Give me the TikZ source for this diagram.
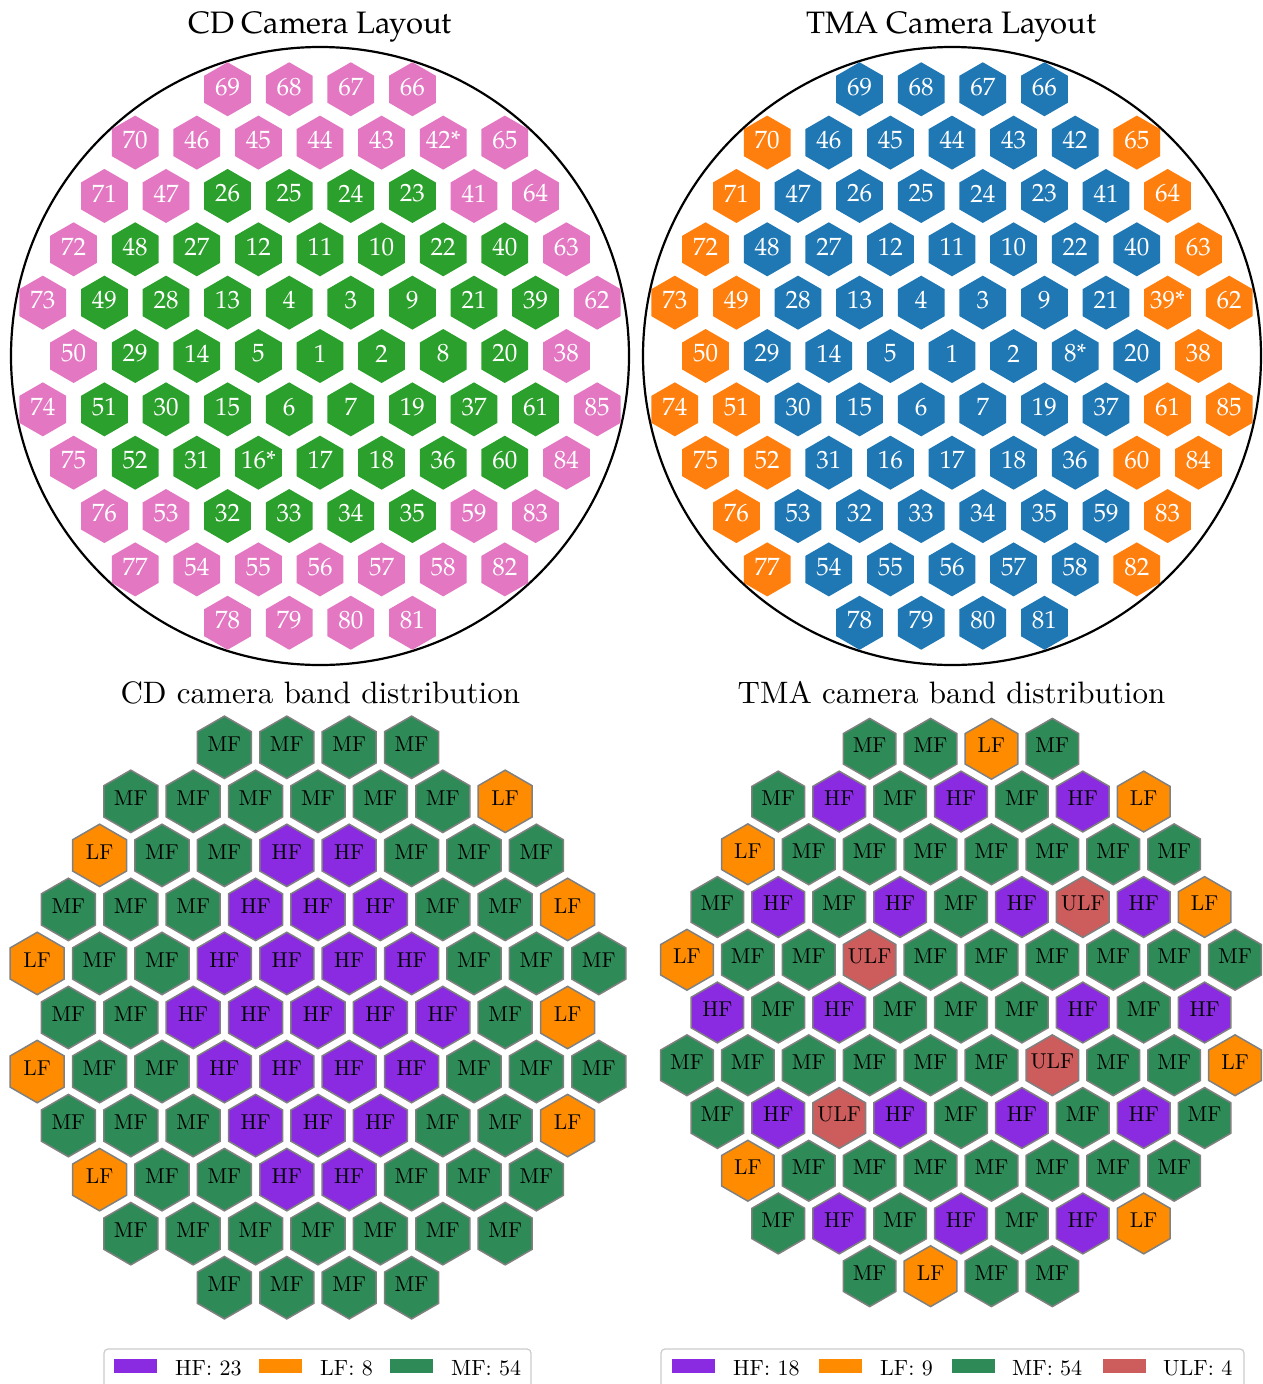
\documentclass[tikz,border=0pt]{standalone}
\usepackage{fontspec}
\newfontfamily\pala{TeX Gyre Pagella}
\newfontfamily\cmten{lmroman10-regular}[Extension=.otf]
\definecolor{pk}{HTML}{E377C2}
\definecolor{gn}{HTML}{2CA02C}
\definecolor{bu}{HTML}{1F77B4}
\definecolor{og}{HTML}{FF7F0E}
\definecolor{HF}{HTML}{8A2BE2}
\definecolor{LF}{HTML}{FF8C00}
\definecolor{MF}{HTML}{2E8B57}
\definecolor{ULF}{HTML}{CD5C5C}
\definecolor{edgec}{HTML}{808080}
\definecolor{legc}{HTML}{CCCCCC}
\newcommand\hexrow[3]{%
  \foreach \lab/\sty [count=\i from 0] in {#3}{%
    \pgfmathsetmacro\hx{\cx+(#2+\i)*\dd}%
    \pgfmathsetmacro\hy{\cy+(#1)*\dd*0.8660254}%
    \path[cell,fill=\sty] (\hx,\hy) +(90:\R) -- +(150:\R) -- +(210:\R) -- +(270:\R) -- +(330:\R) -- +(30:\R) -- cycle;
    \node[lab] (\pre r#1c\i) at (\hx,\hy-\lsh) {\lab};
  }}
\tikzset{
  toptitle/.style={font=\pala\fontsize{31}{36}\selectfont, anchor=base, inner sep=0},
  bottitle/.style={font=\cmten\fontsize{31}{36}\selectfont, anchor=base, inner sep=0},
  ring/.style={draw=black, line width=2.2pt},
  legbox/.style={draw=legc, line width=1.2pt, fill=white, rounded corners=4pt},
  legtext/.style={font=\cmten\fontsize{22}{26}\selectfont, anchor=base west, inner sep=0},
}
\begin{document}
\begin{tikzpicture}[x=1pt, y={(0pt,-1pt)}]
\useasboundingbox (0,0) rectangle (1263,1384);
\fill[white] (0,0) rectangle (1263,1384);
% ---------- titles ----------
\node[toptitle] (t1) at (320,33) {CD Camera Layout};
\node[toptitle] (t2) at (951.5,33) {TMA Camera Layout};
\node[bottitle] (t3) at (320.3,703.3) {CD camera band distribution};
\node[bottitle] (t4) at (951.5,703.3) {TMA camera band distribution};
% ---------- CD layout ----------
\draw[ring] (320,356) circle[radius=309];
\begin{scope}[cell/.style={draw=none}, lab/.style={font=\pala\fontsize{25}{30}\selectfont, text=white, inner sep=0}]
\def\cx{320}\def\cy{356}\def\dd{61.6}\def\R{27}\def\lsh{2.5}\def\pre{cd}
\hexrow{-5}{-1.5}{69/pk,68/pk,67/pk,66/pk}
\hexrow{-4}{-3}{70/pk,46/pk,45/pk,44/pk,43/pk,42*/pk,65/pk}
\hexrow{-3}{-3.5}{71/pk,47/pk,26/gn,25/gn,24/gn,23/gn,41/pk,64/pk}
\hexrow{-2}{-4}{72/pk,48/gn,27/gn,12/gn,11/gn,10/gn,22/gn,40/gn,63/pk}
\hexrow{-1}{-4.5}{73/pk,49/gn,28/gn,13/gn,4/gn,3/gn,9/gn,21/gn,39/gn,62/pk}
\hexrow{0}{-4}{50/pk,29/gn,14/gn,5/gn,1/gn,2/gn,8/gn,20/gn,38/pk}
\hexrow{1}{-4.5}{74/pk,51/gn,30/gn,15/gn,6/gn,7/gn,19/gn,37/gn,61/gn,85/pk}
\hexrow{2}{-4}{75/pk,52/gn,31/gn,16*/gn,17/gn,18/gn,36/gn,60/gn,84/pk}
\hexrow{3}{-3.5}{76/pk,53/pk,32/gn,33/gn,34/gn,35/gn,59/pk,83/pk}
\hexrow{4}{-3}{77/pk,54/pk,55/pk,56/pk,57/pk,58/pk,82/pk}
\hexrow{5}{-1.5}{78/pk,79/pk,80/pk,81/pk}
% ---------- TMA layout ----------
\def\cx{952}\def\pre{tma}
\hexrow{-5}{-1.5}{69/bu,68/bu,67/bu,66/bu}
\hexrow{-4}{-3}{70/og,46/bu,45/bu,44/bu,43/bu,42/bu,65/og}
\hexrow{-3}{-3.5}{71/og,47/bu,26/bu,25/bu,24/bu,23/bu,41/bu,64/og}
\hexrow{-2}{-4}{72/og,48/bu,27/bu,12/bu,11/bu,10/bu,22/bu,40/bu,63/og}
\hexrow{-1}{-4.5}{73/og,49/og,28/bu,13/bu,4/bu,3/bu,9/bu,21/bu,39*/og,62/og}
\hexrow{0}{-4}{50/og,29/bu,14/bu,5/bu,1/bu,2/bu,8*/bu,20/bu,38/og}
\hexrow{1}{-4.5}{74/og,51/og,30/bu,15/bu,6/bu,7/bu,19/bu,37/bu,61/og,85/og}
\hexrow{2}{-4}{75/og,52/og,31/bu,16/bu,17/bu,18/bu,36/bu,60/og,84/og}
\hexrow{3}{-3.5}{76/og,53/bu,32/bu,33/bu,34/bu,35/bu,59/bu,83/og}
\hexrow{4}{-3}{77/og,54/bu,55/bu,56/bu,57/bu,58/bu,82/og}
\hexrow{5}{-1.5}{78/bu,79/bu,80/bu,81/bu}
\end{scope}
\draw[ring] (952,356) circle[radius=309];
% ---------- band distributions ----------
\begin{scope}[cell/.style={draw=edgec, line width=1.5pt, line join=miter}, lab/.style={font=\cmten\fontsize{21.5}{26}\selectfont, text=black, inner sep=0}]
\def\cx{318}\def\cy{1017.5}\def\dd{62.4}\def\R{31.2}\def\lsh{3.5}\def\pre{cdb}
\hexrow{-5}{-1.5}{MF,MF,MF,MF}
\hexrow{-4}{-3}{MF,MF,MF,MF,MF,MF,LF}
\hexrow{-3}{-3.5}{LF,MF,MF,HF,HF,MF,MF,MF}
\hexrow{-2}{-4}{MF,MF,MF,HF,HF,HF,MF,MF,LF}
\hexrow{-1}{-4.5}{LF,MF,MF,HF,HF,HF,HF,MF,MF,MF}
\hexrow{0}{-4}{MF,MF,HF,HF,HF,HF,HF,MF,LF}
\hexrow{1}{-4.5}{LF,MF,MF,HF,HF,HF,HF,MF,MF,MF}
\hexrow{2}{-4}{MF,MF,MF,HF,HF,HF,MF,MF,LF}
\hexrow{3}{-3.5}{LF,MF,MF,HF,HF,MF,MF,MF}
\hexrow{4}{-3}{MF,MF,MF,MF,MF,MF,MF}
\hexrow{5}{-1.5}{MF,MF,MF,MF}
\def\cx{961}\def\cy{1012.5}\def\dd{60.9}\def\R{30.4}\def\pre{tmab}
\hexrow{-5}{-1.5}{MF,MF,LF,MF}
\hexrow{-4}{-3}{MF,HF,MF,HF,MF,HF,LF}
\hexrow{-3}{-3.5}{LF,MF,MF,MF,MF,MF,MF,MF}
\hexrow{-2}{-4}{MF,HF,MF,HF,MF,HF,ULF,HF,LF}
\hexrow{-1}{-4.5}{LF,MF,MF,ULF,MF,MF,MF,MF,MF,MF}
\hexrow{0}{-4}{HF,MF,HF,MF,MF,MF,HF,MF,HF}
\hexrow{1}{-4.5}{MF,MF,MF,MF,MF,MF,ULF,MF,MF,LF}
\hexrow{2}{-4}{MF,HF,ULF,HF,MF,HF,MF,HF,MF}
\hexrow{3}{-3.5}{LF,MF,MF,MF,MF,MF,MF,MF}
\hexrow{4}{-3}{MF,HF,MF,HF,MF,HF,LF}
\hexrow{5}{-1.5}{MF,LF,MF,MF}
\end{scope}
% ---------- legends ----------
\draw[legbox] (104,1349) rectangle (531,1400);
\fill[HF] (114,1359) rectangle (157,1373);
\node[legtext] (l1) at (175,1375) {HF: 23};
\fill[LF] (259,1359) rectangle (302,1373);
\node[legtext] (l2) at (320,1375) {LF: 8};
\fill[MF] (390,1359) rectangle (433,1373);
\node[legtext] (l3) at (451,1375) {MF: 54};
\draw[legbox] (661,1349) rectangle (1244,1400);
\fill[HF] (671.5,1359) rectangle (714.5,1373);
\node[legtext] (r1) at (733,1375) {HF: 18};
\fill[LF] (819,1359) rectangle (862,1373);
\node[legtext] (r2) at (880,1375) {LF: 9};
\fill[MF] (952,1359) rectangle (995,1373);
\node[legtext] (r3) at (1012,1375) {MF: 54};
\fill[ULF] (1103,1359) rectangle (1146,1373);
\node[legtext] (r4) at (1163,1375) {ULF: 4};
\end{tikzpicture}
\end{document}
